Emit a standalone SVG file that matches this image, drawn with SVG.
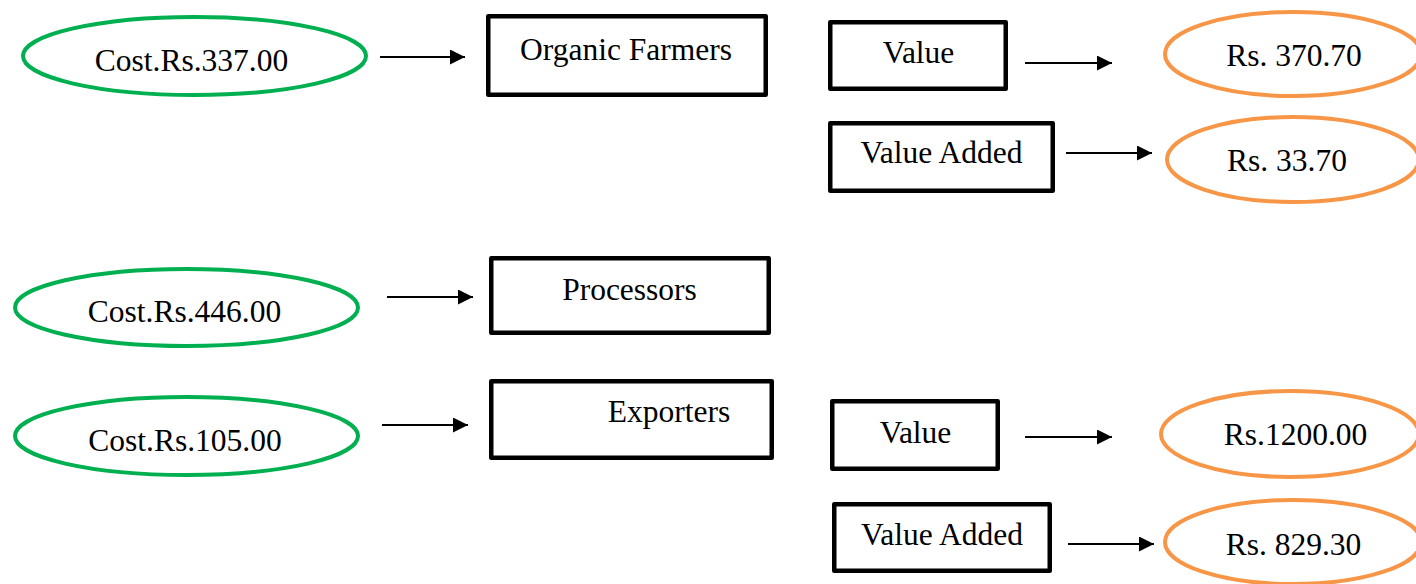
<svg xmlns="http://www.w3.org/2000/svg" width="1416" height="584" viewBox="0 0 1416 584">
  <style>
    .box { fill: #ffffff; stroke: #000000; stroke-width: 4.5; stroke-linejoin: round; }
    .cost { fill: none; stroke: #00B050; stroke-width: 4; }
    .val { fill: none; stroke: #F79646; stroke-width: 4; }
    .lbl { font-family: "Liberation Serif", "Times New Roman", serif; font-size: 31.5px; fill: #000000; text-anchor: middle; }
    .arrow { stroke: #000000; stroke-width: 2; fill: none; marker-end: url(#head); }
  </style>
  <defs>
    <marker id="head" markerUnits="userSpaceOnUse" markerWidth="16" markerHeight="16" refX="15" refY="7.5" orient="auto">
      <path d="M0,0 L15,7.5 L0,15 Z" fill="#000000"/>
    </marker>
  </defs>
  <rect width="1416" height="584" fill="#ffffff"/>

  <!-- cost ellipses -->
  <g id="cost-farmers">
    <ellipse class="cost" cx="194.5" cy="56" rx="171.5" ry="39"/>
    <text class="lbl" x="191.5" y="71">Cost.Rs.337.00</text>
  </g>
  <g id="cost-processors">
    <ellipse class="cost" cx="186.5" cy="307.5" rx="171.5" ry="38.5"/>
    <text class="lbl" x="184.5" y="322">Cost.Rs.446.00</text>
  </g>
  <g id="cost-exporters">
    <ellipse class="cost" cx="186.5" cy="436" rx="171.5" ry="39"/>
    <text class="lbl" x="185" y="451">Cost.Rs.105.00</text>
  </g>

  <!-- actor boxes -->
  <g id="organic-farmers">
    <rect class="box" x="488.25" y="16.25" width="277.5" height="78.5"/>
    <text class="lbl" x="626" y="60">Organic Farmers</text>
  </g>
  <g id="processors">
    <rect class="box" x="491.25" y="258.25" width="277.5" height="74.5"/>
    <text class="lbl" x="629.5" y="300">Processors</text>
  </g>
  <g id="exporters">
    <rect class="box" x="491.25" y="381.25" width="280.5" height="76.5"/>
    <text class="lbl" x="669" y="422">Exporters</text>
  </g>

  <!-- value boxes -->
  <g id="value-top">
    <rect class="box" x="830.25" y="22.25" width="175.5" height="66.5"/>
    <text class="lbl" x="918.5" y="63">Value</text>
  </g>
  <g id="value-added-top">
    <rect class="box" x="830.25" y="123.25" width="222.5" height="67.5"/>
    <text class="lbl" x="941.5" y="163">Value Added</text>
  </g>
  <g id="value-bottom">
    <rect class="box" x="832.25" y="401.25" width="165.5" height="67.5"/>
    <text class="lbl" x="915.5" y="443">Value</text>
  </g>
  <g id="value-added-bottom">
    <rect class="box" x="834.25" y="504.25" width="215.5" height="66.5"/>
    <text class="lbl" x="942" y="545">Value Added</text>
  </g>

  <!-- amount ellipses -->
  <g id="amount-370">
    <ellipse class="val" cx="1293" cy="54" rx="128" ry="42"/>
    <text class="lbl" x="1294" y="66">Rs. 370.70</text>
  </g>
  <g id="amount-33">
    <ellipse class="val" cx="1293" cy="159.5" rx="126" ry="42.5"/>
    <text class="lbl" x="1287" y="171">Rs. 33.70</text>
  </g>
  <g id="amount-1200">
    <ellipse class="val" cx="1290" cy="434" rx="129" ry="43"/>
    <text class="lbl" x="1295.5" y="445">Rs.1200.00</text>
  </g>
  <g id="amount-829">
    <ellipse class="val" cx="1293" cy="542" rx="128" ry="42"/>
    <text class="lbl" x="1293.5" y="555">Rs. 829.30</text>
  </g>

  <!-- connectors -->
  <g id="connectors">
    <line class="arrow" x1="380" y1="57" x2="465" y2="57"/>
    <line class="arrow" x1="387" y1="297" x2="473" y2="297"/>
    <line class="arrow" x1="382" y1="425" x2="468" y2="425"/>
    <line class="arrow" x1="1025" y1="63" x2="1112" y2="63"/>
    <line class="arrow" x1="1066" y1="153" x2="1152" y2="153"/>
    <line class="arrow" x1="1025" y1="437" x2="1112" y2="437"/>
    <line class="arrow" x1="1068" y1="544" x2="1154" y2="544"/>
  </g>
</svg>
